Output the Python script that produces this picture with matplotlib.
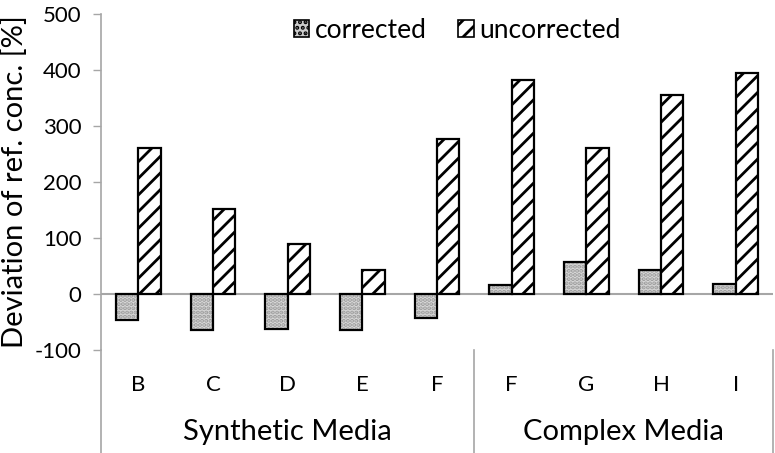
import numpy as np
import matplotlib
matplotlib.use('Agg')
import matplotlib.pyplot as plt
from matplotlib.patches import Patch
from matplotlib.lines import Line2D
import matplotlib.transforms as mtransforms

# data
categories = ['B', 'C', 'D', 'E', 'F', 'F', 'G', 'H', 'I']
corrected = [-47, -65, -62, -65, -43, 16, 58, 43, 17]
uncorrected = [260, 152, 90, 42, 277, 383, 260, 356, 395]
groups = ['Synthetic Media', 'Complex Media']
group_sizes = [5, 4]
yticks = [-100, 0, 100, 200, 300, 400, 500]

plt.rcParams['font.family'] = ['Lato', 'DejaVu Sans']
plt.rcParams['hatch.linewidth'] = 2.0

W, H = 775, 453
fig = plt.figure(figsize=(W / 100, H / 100), dpi=100)
left, right, top, bottom = 101, 773, 14, 350
ax = fig.add_axes([left / W, 1 - bottom / H, (right - left) / W, (bottom - top) / H])

x = np.arange(len(categories))
w = 0.3
grey = '#a6a6a6'

# corrected: dotted grey fill, drawn as fill layer + outline layer
ax.bar(x - w / 2, corrected, w, color='#d8d8d8', edgecolor='#9a9a9a',
       hatch='....', linewidth=0, zorder=2)
ax.bar(x - w / 2, corrected, w, fill=False, edgecolor='black',
       linewidth=1.6, zorder=3)
# uncorrected: white with black diagonal stripes
ax.bar(x + w / 2, uncorrected, w, color='white', edgecolor='black',
       hatch='//', linewidth=1.6, zorder=3)

ax.axhline(0, color=grey, linewidth=1.5, zorder=1)

ax.set_xlim(-0.5, len(categories) - 0.5)
ax.set_ylim(-100, 500)
ax.set_yticks(yticks)
ax.set_yticklabels([str(t) for t in yticks], fontsize=16)
ax.tick_params(axis='y', direction='out', length=6, width=1, color=grey, pad=8)
ax.set_xticks(x)
ax.set_xticklabels(categories, fontsize=16)
ax.tick_params(axis='x', length=0, pad=18)
ax.set_ylabel('Deviation of ref. conc. [%]', fontsize=21, labelpad=5)

for side in ['top', 'right', 'bottom']:
    ax.spines[side].set_visible(False)
ax.spines['left'].set_color(grey)
ax.spines['left'].set_linewidth(1.2)

# multi-level category axis: separators and group labels
trans = mtransforms.blended_transform_factory(ax.transData, ax.transAxes)
ybot = -(H - bottom) / (bottom - top)
edges = np.concatenate([[0], np.cumsum(group_sizes)]) - 0.5
for e in edges:
    ax.add_line(Line2D([e, e], [0, ybot], transform=trans, color=grey,
                       linewidth=1.2, clip_on=False))
for g, a, b in zip(groups, edges[:-1], edges[1:]):
    ax.text((a + b) / 2, -0.245, g, transform=trans, ha='center', va='center',
            fontsize=21)

handles = [Patch(facecolor='#cccccc', edgecolor='black', hatch='...', linewidth=1.2),
           Patch(facecolor='white', edgecolor='black', hatch='//', linewidth=1.2)]
ax.legend(handles, ['corrected', 'uncorrected'], loc='upper center',
          bbox_to_anchor=(0.53, 1.06), ncol=2, frameon=False, fontsize=19,
          handlelength=0.6, handleheight=0.6, handletextpad=0.2,
          columnspacing=1.2)

fig.savefig('out.png', dpi=100)
